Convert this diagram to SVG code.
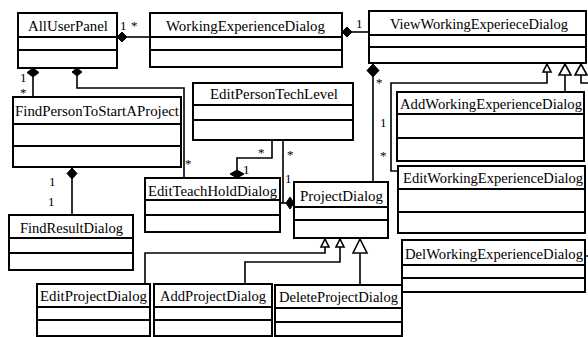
<svg xmlns="http://www.w3.org/2000/svg" width="588" height="337" viewBox="0 0 588 337">
  <style>
    .box { fill: #fff; stroke: #000; stroke-width: 2; }
    .sep { stroke: #000; stroke-width: 1.8; }
    .name { font-family: "Liberation Serif", "Times New Roman", serif; font-size: 14.5px; fill: #000; }
    .cn { fill: none; stroke: #000; stroke-width: 1.6; }
    .dia { fill: #000; stroke: #000; stroke-width: 1; }
    .gen { fill: #fff; stroke: #000; stroke-width: 1.6; }
    .m { font-family: "Liberation Serif", "Times New Roman", serif; font-size: 13px; fill: #000; }
  </style>
  <rect width="588" height="337" fill="#fff"/>

  <!-- connectors -->
  <g id="connectors">
    <!-- AllUserPanel to WorkingExperienceDialog -->
    <path class="cn" d="M126,37 H150"/>
    <polygon class="dia" points="117,37 122,32 127,37 122,42"/>
    <text class="m" x="120" y="30">1</text>
    <text class="m" x="131" y="30">*</text>

    <!-- WorkingExperienceDialog to ViewWorkingExperieceDialog -->
    <path class="cn" d="M352,32 H369"/>
    <polygon class="dia" points="342,32 347,27 352,32 347,37"/>
    <text class="m" x="356" y="28">1</text>

    <!-- AllUserPanel to FindPersonToStartAProject -->
    <path class="cn" d="M33,77 V97"/>
    <polygon class="dia" points="33,68 39,72.5 33,77 27,72.5"/>
    <text class="m" x="20" y="82">1</text>
    <text class="m" x="20" y="97">*</text>

    <!-- AllUserPanel to EditTeachHoldDialog -->
    <path class="cn" d="M77,76 V88 H184 V178"/>
    <polygon class="dia" points="77,68 82,72 77,76 72,72"/>
    <text class="m" x="185" y="168">*</text>

    <!-- FindPersonToStartAProject to FindResultDialog -->
    <path class="cn" d="M72,179 V215"/>
    <polygon class="dia" points="72,168 77,173.5 72,179 67,173.5"/>
    <text class="m" x="49" y="186">1</text>
    <text class="m" x="48" y="206">1</text>

    <!-- ViewWorkingExperieceDialog to ProjectDialog -->
    <path class="cn" d="M373,77 V182"/>
    <polygon class="dia" points="373,64 379,70.5 373,77 367,70.5"/>
    <text class="m" x="376" y="87">*</text>
    <text class="m" x="380" y="127">1</text>
    <text class="m" x="380" y="160">*</text>

    <!-- EditPersonTechLevel to EditTeachHoldDialog -->
    <path class="cn" d="M272,140 V158 H237 V170"/>
    <polygon class="dia" points="237,170 244,174 237,178 230,174"/>
    <text class="m" x="258" y="157">*</text>
    <text class="m" x="243" y="174">1</text>

    <!-- EditPersonTechLevel and EditTeachHoldDialog to ProjectDialog -->
    <path class="cn" d="M283,140 V203"/>
    <path class="cn" d="M280,203 H286"/>
    <polygon class="dia" points="286,203 290,197 294,203 290,209"/>
    <text class="m" x="287" y="159">*</text>
    <text class="m" x="285" y="183">1</text>

    <!-- generalisations of ViewWorkingExperieceDialog -->
    <path class="cn" d="M547,72 V83 H391 V171 H398"/>
    <polygon class="gen" points="547,64 551,72 543,72"/>
    <path class="cn" d="M565,75 V92"/>
    <polygon class="gen" points="565,64 571,75 559,75"/>
    <path class="cn" d="M581,75 V83 H592 V256 H585"/>
    <polygon class="gen" points="581,64 587,75 575,75"/>

    <!-- generalisations of ProjectDialog -->
    <path class="cn" d="M325,247 V253 H145 V284"/>
    <polygon class="gen" points="325,239 329,247 321,247"/>
    <path class="cn" d="M340,247 V262 H245 V284"/>
    <polygon class="gen" points="340,239 344,247 336,247"/>
    <path class="cn" d="M360,253 V285"/>
    <polygon class="gen" points="360,239 367,253 353,253"/>
  </g>

  <g id="AllUserPanel">
    <rect class="box" x="18" y="13" width="99" height="55"/>
    <line class="sep" x1="18" y1="37" x2="117" y2="37"/>
    <line class="sep" x1="18" y1="50" x2="117" y2="50"/>
    <text class="name" x="28" y="31" textLength="80" lengthAdjust="spacingAndGlyphs">AllUserPanel</text>
  </g>

  <g id="WorkingExperienceDialog">
    <rect class="box" x="150" y="13" width="192" height="54"/>
    <line class="sep" x1="150" y1="37" x2="342" y2="37"/>
    <line class="sep" x1="150" y1="50" x2="342" y2="50"/>
    <text class="name" x="166" y="31" textLength="159" lengthAdjust="spacingAndGlyphs">WorkingExperienceDialog</text>
  </g>

  <g id="ViewWorkingExperieceDialog">
    <rect class="box" x="369" y="11" width="217" height="52"/>
    <line class="sep" x1="369" y1="35" x2="586" y2="35"/>
    <line class="sep" x1="369" y1="47" x2="586" y2="47"/>
    <text class="name" x="390" y="29" textLength="178" lengthAdjust="spacingAndGlyphs">ViewWorkingExperieceDialog</text>
  </g>

  <g id="FindPersonToStartAProject">
    <rect class="box" x="13" y="97" width="168" height="70"/>
    <line class="sep" x1="13" y1="124" x2="181" y2="124"/>
    <line class="sep" x1="13" y1="146" x2="181" y2="146"/>
    <text class="name" x="15" y="116" textLength="164" lengthAdjust="spacingAndGlyphs">FindPersonToStartAProject</text>
  </g>

  <g id="EditPersonTechLevel">
    <rect class="box" x="193" y="83" width="160" height="57"/>
    <line class="sep" x1="193" y1="105" x2="353" y2="105"/>
    <line class="sep" x1="193" y1="120" x2="353" y2="120"/>
    <text class="name" x="210" y="99" textLength="128" lengthAdjust="spacingAndGlyphs">EditPersonTechLevel</text>
  </g>

  <g id="EditTeachHoldDialog">
    <rect class="box" x="145" y="178" width="135" height="54"/>
    <line class="sep" x1="145" y1="200" x2="280" y2="200"/>
    <line class="sep" x1="145" y1="215" x2="280" y2="215"/>
    <text class="name" x="148" y="196" textLength="129" lengthAdjust="spacingAndGlyphs">EditTeachHoldDialog</text>
  </g>

  <g id="ProjectDialog">
    <rect class="box" x="294" y="182" width="94" height="56"/>
    <line class="sep" x1="294" y1="207" x2="388" y2="207"/>
    <line class="sep" x1="294" y1="220" x2="388" y2="220"/>
    <text class="name" x="300" y="201" textLength="83" lengthAdjust="spacingAndGlyphs">ProjectDialog</text>
  </g>

  <g id="AddWorkingExperienceDialog">
    <rect class="box" x="397" y="92" width="187" height="69"/>
    <line class="sep" x1="397" y1="114" x2="584" y2="114"/>
    <line class="sep" x1="397" y1="138" x2="584" y2="138"/>
    <text class="name" x="400" y="109" textLength="182" lengthAdjust="spacingAndGlyphs">AddWorkingExperienceDialog</text>
  </g>

  <g id="EditWorkingExperienceDialog">
    <rect class="box" x="398" y="166" width="187" height="67"/>
    <line class="sep" x1="398" y1="189" x2="585" y2="189"/>
    <line class="sep" x1="398" y1="212" x2="585" y2="212"/>
    <text class="name" x="403" y="183" textLength="180" lengthAdjust="spacingAndGlyphs">EditWorkingExperienceDialog</text>
  </g>

  <g id="DelWorkingExperienceDialog">
    <rect class="box" x="402" y="240" width="183" height="52"/>
    <line class="sep" x1="402" y1="265" x2="585" y2="265"/>
    <line class="sep" x1="402" y1="278" x2="585" y2="278"/>
    <text class="name" x="405" y="259" textLength="178" lengthAdjust="spacingAndGlyphs">DelWorkingExperienceDialog</text>
  </g>

  <g id="FindResultDialog">
    <rect class="box" x="9" y="215" width="124" height="55"/>
    <line class="sep" x1="9" y1="238" x2="133" y2="238"/>
    <line class="sep" x1="9" y1="253" x2="133" y2="253"/>
    <text class="name" x="20" y="233" textLength="103" lengthAdjust="spacingAndGlyphs">FindResultDialog</text>
  </g>

  <g id="EditProjectDialog">
    <rect class="box" x="37" y="284" width="113" height="52"/>
    <line class="sep" x1="37" y1="307" x2="150" y2="307"/>
    <line class="sep" x1="37" y1="320" x2="150" y2="320"/>
    <text class="name" x="40" y="301" textLength="107" lengthAdjust="spacingAndGlyphs">EditProjectDialog</text>
  </g>

  <g id="AddProjectDialog">
    <rect class="box" x="154" y="284" width="118" height="52"/>
    <line class="sep" x1="154" y1="307" x2="272" y2="307"/>
    <line class="sep" x1="154" y1="320" x2="272" y2="320"/>
    <text class="name" x="160" y="301" textLength="106" lengthAdjust="spacingAndGlyphs">AddProjectDialog</text>
  </g>

  <g id="DeleteProjectDialog">
    <rect class="box" x="275" y="285" width="127" height="51"/>
    <line class="sep" x1="275" y1="308" x2="402" y2="308"/>
    <line class="sep" x1="275" y1="322" x2="402" y2="322"/>
    <text class="name" x="279" y="302" textLength="119" lengthAdjust="spacingAndGlyphs">DeleteProjectDialog</text>
  </g>
</svg>
